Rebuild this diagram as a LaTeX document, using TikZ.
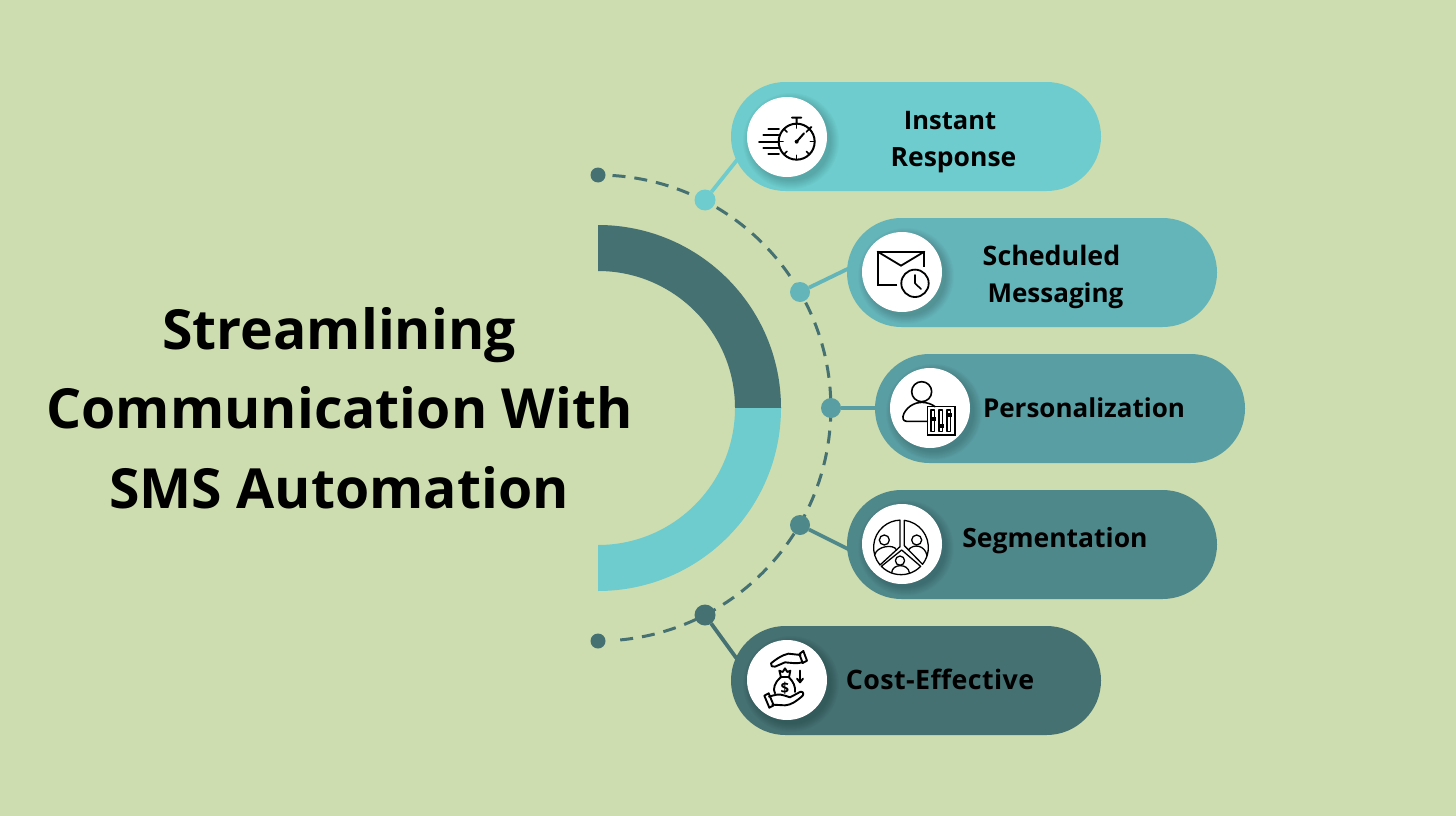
\documentclass[tikz,border=0pt]{standalone}
\usepackage{fontspec}
\setmainfont{Open Sans}
\definecolor{bgc}{HTML}{CDDDAF}
\definecolor{pa}{HTML}{6ECCCE}
\definecolor{pb}{HTML}{64B5BA}
\definecolor{pc}{HTML}{599EA3}
\definecolor{pd}{HTML}{4F888B}
\definecolor{pe}{HTML}{457173}
\tikzset{
  pill/.style={rectangle,rounded corners=54.4pt,minimum width=370pt,minimum height=109pt,inner sep=0pt,outer sep=0pt},
  dotnode/.style={circle,minimum size=#1,inner sep=0pt,outer sep=0pt},
  disc/.style={circle,fill=white,minimum size=80pt,inner sep=0pt,outer sep=0pt},
  title/.style={anchor=base,inner sep=0pt,font=\fontsize{55.3}{60}\selectfont\bfseries,text=black},
  label/.style={anchor=base,inner sep=0pt,font=\fontsize{#1}{30}\selectfont\bfseries,text=black},
  link/.style={line width=3.8pt},
  ico/.style={draw=black,line width=1.6pt,line cap=round,line join=round},
  icoM/.style={draw=black,line width=1.9pt,line cap=round,line join=round},
  icoT/.style={draw=black,line width=1.3pt,line cap=round,line join=round}
}
\newcommand{\softshadow}[1]{%
  \foreach \rr in {48,47,46,45,44,43,42,41,40}{
    \fill[black,opacity=.018] (#1)++(4,4) circle (\rr);
  }}
\begin{document}
\begin{tikzpicture}[x=1pt,y=1pt,yscale=-1]
\useasboundingbox (0,0) rectangle (1456,816);
\fill[bgc] (0,0) rectangle (1456,816);

% half ring
\fill[pe] (598,225) arc (-90:0:183) -- (735,408) arc (0:-90:137) -- cycle;
\fill[pa] (781,408) arc (0:90:183) -- (598,545) arc (90:0:137) -- cycle;

% dashed arc
\draw[pe,line width=3pt,dash pattern=on 13pt off 9pt] (612.5,175.5) arc (-86.4:86.4:233);

% anchor dots
\node[dotnode=15pt,fill=pe] (e1) at (598,175) {};
\node[dotnode=15pt,fill=pe] (e2) at (598,641) {};
\node[dotnode=21pt,fill=pa] (d1) at (705,200) {};
\node[dotnode=20pt,fill=pb] (d2) at (800,292) {};
\node[dotnode=20pt,fill=pc] (d3) at (831,408) {};
\node[dotnode=20pt,fill=pd] (d4) at (800,525) {};
\node[dotnode=21pt,fill=pe] (d5) at (705,615) {};

% connectors, running under the pills
\coordinate (c1) at (745,150);
\coordinate (c2) at (862,262);
\coordinate (c3) at (885,408);
\coordinate (c4) at (862,556);
\coordinate (c5) at (745,670);
\draw[link,pa] (d1) -- (c1);
\draw[link,pb] (d2) -- (c2);
\draw[link,pc] (d3) -- (c3);
\draw[link,pd] (d4) -- (c4);
\draw[link,pe] (d5) -- (c5);

% pill nodes
\node[pill,fill=pa] (p1) at (916,136.5) {};
\node[pill,fill=pb] (p2) at (1032,272.5) {};
\node[pill,fill=pc] (p3) at (1060,408.5) {};
\node[pill,fill=pd] (p4) at (1032,544.5) {};
\node[pill,fill=pe] (p5) at (916,680.5) {};

% white discs
\softshadow{787,137}\softshadow{902,272}\softshadow{930,408}\softshadow{902,544}\softshadow{787,680}
\node[disc] (w1) at (787,137) {};
\node[disc] (w2) at (902,272) {};
\node[disc] (w3) at (930,408) {};
\node[disc] (w4) at (902,544) {};
\node[disc] (w5) at (787,680) {};

% stopwatch
\begin{scope}[shift={(730,80)},x=.3333pt,y=.3333pt]
\draw[ico,line width=2pt] (200,185) circle (18pt);
\draw[ico,line width=2pt] (200,131)--(200,115) (186,113)--(214,113) (237,148)--(244,141);
\foreach \a in {0,45,90,135,180,225,270,315}{
  \draw[ico] (200,185)++(\a:54) -- ++(\a+180:13);
}
\draw[ico,line width=2pt] (200,185)--(222,160);
\fill (200,185) circle (2pt);
\draw[ico,line width=1.8pt] (115,148)--(147,148) (100,166)--(145,166) (87,185)--(143,185) (100,203)--(145,203) (115,222)--(147,222);
\end{scope}

% envelope
\begin{scope}[shift={(840,220)},x=.3333pt,y=.3333pt]
\draw[ico,line cap=butt,line join=miter,line width=1.8pt] (172,195)--(113,195)--(113,95)--(253,95)--(253,140);
\draw[ico,line join=miter,line width=1.8pt] (113,95)--(183,137)--(253,95);
\draw[ico,line width=1.8pt] (225,190) circle (13.7pt);
\draw[ico,line width=1.6pt] (225,165)--(225,190)--(243,207);
\end{scope}

% person with sliders
\begin{scope}[shift={(880,360)},x=.3333pt,y=.3333pt]
\draw[ico] (125,95) circle (10pt);
\draw[ico] (142,184) -- (80,184) .. controls (68,184) and (66,172) .. (72,160) .. controls (85,135) and (110,127) .. (125,127) .. controls (140,127) and (155,132) .. (165,140);
\draw[ico,line join=miter] (142,140) rectangle (225,225);
\foreach \sx/\sy in {158/178,182/197,206/165}{
  \draw[icoT,line cap=butt,line width=1.1pt] (\sx-5,150) rectangle (\sx+5,214);
  \fill (\sx-9,\sy-6) rectangle (\sx+9,\sy+6);
}
\end{scope}

% segmentation
\begin{scope}[shift={(855,495)},x=.3333pt,y=.3333pt]
\draw[icoT] (135,155) -- (75,210) arc (140:268:27.33pt) -- cycle;
\draw[icoT] (148,152) -- (148,76) arc (-83:38:27.33pt) -- cycle;
\draw[icoT] (140,165) -- (197,214) arc (44:136:27.33pt) -- cycle;
\draw[icoT] (88,135) circle (5pt) (185,135) circle (5pt) (135,197) circle (4.6pt);
\draw[icoT] (60,178) .. controls (65,155) and (115,145) .. (125,165);
\draw[icoT] (160,165) .. controls (175,145) and (210,150) .. (216,182);
\draw[icoT] (110,233) .. controls (112,205) and (160,205) .. (163,233);
\end{scope}

% money
\begin{scope}[shift={(735,630)},x=.3333pt,y=.3333pt]
\draw[icoM] (197,75) -- (160,71) .. controls (140,75) and (120,90) .. (108,100) .. controls (106,108) and (112,112) .. (120,110) -- (150,97) .. controls (165,98) and (185,102) .. (203,97);
\draw[icoM] (193,72) -- (205,63) -- (216,92) -- (203,99) -- cycle;
\draw[icoM] (102,200) .. controls (120,195) and (130,190) .. (150,197) -- (165,202) -- (197,185) .. controls (207,185) and (207,195) .. (200,200) .. controls (185,212) and (170,225) .. (150,226) -- (112,224);
\draw[icoM] (88,197) -- (101,190) -- (116,226) -- (103,233) -- cycle;
\draw[icoM] (137,142) .. controls (120,155) and (112,178) .. (120,190) (162,142) .. controls (175,155) and (182,170) .. (180,186);
\draw[icoM] (137,142) -- (162,142);
\draw[icoM] (138,142) -- (133,122) -- (143,126) -- (150,115) -- (157,126) -- (166,122) -- (162,142);
\node[inner sep=0pt,font=\fontsize{15}{15}\selectfont\bfseries] (dollar) at (150,176) {\$};
\draw[icoM] (195,122)--(195,156) (186,146)--(195,157)--(204,146);
\end{scope}

% texts
\node[title] (t1) at (339,349) {Streamlining};
\node[title] (t2) at (339.5,428) {Communication With};
\node[title] (t3) at (339,508) {SMS Automation};
\node[label=25.5] (l1) at (950,129) {Instant};
\node[label=26.5] (l2) at (953.5,166) {Response};
\node[label=26.8] (l3) at (1051.5,265) {Scheduled};
\node[label=26] (l4) at (1055.5,302) {Messaging};
\node[label=26] (l5) at (1084,417) {Personalization};
\node[label=26.5] (l6) at (1055,547) {Segmentation};
\node[label=26.8] (l7) at (940,689) {\addfontfeature{LetterSpace=1.5}Cost-Effective};
\end{tikzpicture}
\end{document}
